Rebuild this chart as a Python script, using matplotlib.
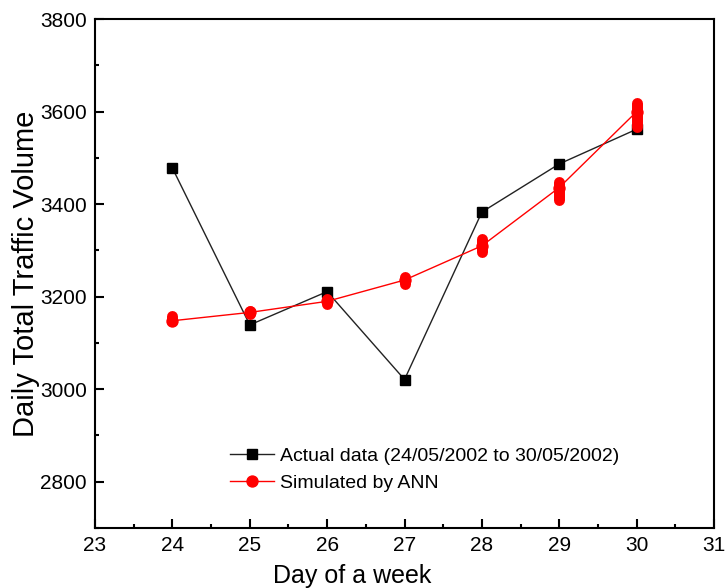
import numpy as np
import matplotlib.pyplot as plt
from matplotlib.ticker import MultipleLocator

plt.rcParams['font.family'] = ['Liberation Sans', 'DejaVu Sans']

# day of the month
days = [24, 25, 26, 27, 28, 29, 30]
# actual daily totals
actual = [3478, 3139, 3211, 3021, 3383, 3487, 3562]
# ANN simulation: line values and spread of the runs
ann_line = [3148, 3166, 3190, 3236, 3310, 3436, 3600]
ann_low = [3147, 3162, 3185, 3227, 3296, 3409, 3566]
ann_high = [3158, 3170, 3195, 3242, 3325, 3448, 3619]

fig = plt.figure(figsize=(7.26, 5.88), dpi=100)
ax = fig.add_axes([0.1309, 0.102, 0.8526, 0.8655])

ax.plot(days, actual, color='#222222', lw=1.0, marker='s', ms=6.5,
        mfc='black', mec='black', label='Actual data (24/05/2002 to 30/05/2002)')
ax.plot(days, ann_line, color='red', lw=1.0, marker='o', ms=7.9,
        mfc='red', mec='red', label='Simulated by ANN')
# spread of ANN runs drawn as stacked circles
ax.vlines(days, ann_low, ann_high, color='red', lw=7.9, capstyle='round', zorder=3)

ax.set_xlim(23, 31)
ax.set_ylim(2700, 3800)
ax.xaxis.set_major_locator(MultipleLocator(1))
ax.xaxis.set_minor_locator(MultipleLocator(0.5))
ax.yaxis.set_major_locator(MultipleLocator(200))
ax.yaxis.set_minor_locator(MultipleLocator(100))
ax.tick_params(which='both', direction='in', top=False, right=False, width=1.5)
ax.tick_params(which='major', length=6.5, labelsize=15, pad=6)
ax.tick_params(which='minor', length=3)
for s in ax.spines.values():
    s.set_linewidth(1.5)

ax.set_xlabel('Day of a week', fontsize=18, labelpad=2)
ax.xaxis.set_label_coords(0.415, -0.07)
ax.set_ylabel('Daily Total Traffic Volume', fontsize=21, labelpad=0)

ax.legend(loc='lower left', bbox_to_anchor=(0.205, 0.055), frameon=False,
          fontsize=14, handlelength=2.3, handletextpad=0.3, labelspacing=0.5,
          borderaxespad=0)

fig.savefig('out.png', dpi=100)
